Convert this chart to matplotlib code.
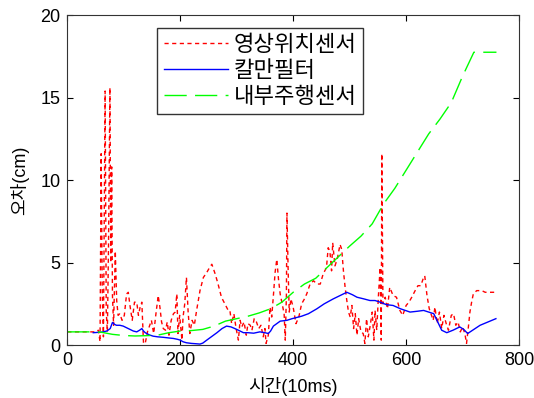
import matplotlib
matplotlib.use("Agg")
import matplotlib.pyplot as plt

# -----------------------------------------
# data
# -----------------------------------------
# 영상위치센서 (camera position sensor)
cam_x = [0, 50, 55, 58, 60, 62, 64, 67, 69, 71, 73, 75.5, 77, 78.6, 80, 82, 85, 87.5, 90,
         93, 97, 101, 105, 108, 111, 115, 119, 123, 126, 129, 132, 135, 138, 142, 146, 149,
         153, 157, 161, 164, 167, 170, 174, 177, 180, 184, 188, 191, 194, 196, 199, 203,
         205, 208, 211, 214, 217, 221, 225, 229, 235, 241, 247, 252, 256, 262, 267, 273,
         279, 285, 288, 291, 295, 299, 303, 306, 309, 313, 317, 320, 324, 327, 331, 335,
         339, 343, 347, 350, 352, 356, 359, 362, 365, 368, 371, 374, 377, 381, 384, 386,
         388, 389, 391, 393, 396, 400, 405, 410, 415, 420, 424, 430, 436, 442, 448, 453,
         459, 462, 465, 468, 470, 474, 478, 483, 486, 489, 492, 495, 498, 501, 504, 507,
         510, 513, 516, 520, 524, 527, 530, 533, 536, 540, 543, 545, 548, 551, 554, 556,
         557, 559, 563, 567, 571, 577, 583, 589, 594, 600, 605, 610, 616, 621, 626, 630,
         633, 637, 641, 645, 648, 651, 655, 659, 663, 667, 671, 675, 680, 684, 688, 692,
         696, 700, 704, 707, 710, 713, 716, 719, 725, 730, 734, 740, 748, 755, 760]
cam_y = [0.8, 0.8, 0.9, 0.2, 11.6, 3.0, 0.5, 15.4, 2.0, 0.8, 6.0, 15.6, 5.0, 10.8, 3.0, 1.2,
         5.7, 2.7, 1.8, 1.9, 1.5, 1.8, 3.1, 3.2, 2.4, 1.5, 2.6, 2.6, 1.8, 2.3, 2.6, 0.1, 0.1,
         0.8, 1.2, 1.5, 0.7, 1.9, 3.0, 2.3, 1.4, 1.0, 0.9, 1.4, 0.6, 1.5, 1.9, 2.0, 3.1, 0.7,
         1.8, 0.3, 1.7, 2.5, 4.1, 2.0, 0.7, 1.5, 1.2, 2.1, 3.3, 4.1, 4.4, 4.7, 4.9, 4.3, 3.7,
         2.9, 2.5, 2.1, 2.1, 1.3, 1.9, 1.0, 0.3, 1.5, 1.1, 1.4, 0.6, 1.3, 1.2, 0.9, 1.6, 1.4,
         1.0, 1.2, 0.5, 1.0, 0.1, 0.6, 2.3, 1.7, 3.0, 4.4, 5.2, 4.0, 3.1, 2.4, 1.9, 0.3, 3.0,
         8.0, 4.7, 2.0, 2.8, 2.3, 1.3, 1.7, 2.5, 2.8, 3.1, 3.7, 3.9, 3.7, 3.7, 4.3, 4.7, 5.9,
         5.7, 4.5, 6.2, 4.8, 5.2, 6.1, 5.8, 4.5, 3.5, 2.7, 2.0, 1.7, 2.4, 1.0, 1.9, 0.6, 1.6,
         0.8, 0.7, 0.1, 1.6, 0.5, 1.1, 2.0, 0.3, 2.1, 0.9, 3.0, 4.7, 0.3, 11.6, 2.5, 2.9, 2.2,
         3.5, 3.0, 2.9, 2.1, 1.8, 2.4, 2.6, 2.9, 3.3, 3.6, 3.6, 4.0, 4.2, 3.0, 2.2, 1.8, 1.5,
         2.3, 1.3, 2.0, 1.0, 1.8, 1.3, 0.9, 1.8, 1.9, 1.2, 1.4, 0.8, 1.1, 0.7, 0.1, 1.0, 2.0,
         2.6, 3.1, 3.3, 3.3, 3.3, 3.2, 3.2, 3.2, 3.2]

# 칼만필터 (Kalman filter)
kf_x = [46, 60, 70, 76, 80, 84, 87, 93, 99, 105, 111, 117, 123, 128, 132, 135, 138, 145,
        152, 160, 170, 180, 188, 195, 200, 205, 211, 220, 228, 235, 240, 247, 255, 265,
        274, 282, 290, 300, 312, 320, 330, 341, 350, 356, 360, 365, 377, 389, 398, 406,
        415, 427, 442, 455, 471, 483, 495, 505, 513, 525, 536, 545, 554, 565, 577, 590,
        607, 620, 631, 640, 649, 656, 663, 672, 683, 695, 702, 709, 720, 731, 745, 759]
kf_y = [0.75, 0.78, 0.85, 1.0, 1.37, 1.25, 1.2, 1.2, 1.15, 1.05, 0.95, 0.85, 0.8, 0.9, 1.0,
        0.85, 0.75, 0.62, 0.54, 0.5, 0.47, 0.43, 0.4, 0.35, 0.3, 0.2, 0.14, 0.1, 0.08, 0.06,
        0.12, 0.3, 0.5, 0.75, 1.0, 1.15, 1.1, 0.95, 0.75, 0.75, 0.72, 0.8, 0.75, 0.7, 0.85,
        1.15, 1.45, 1.5, 1.6, 1.67, 1.75, 1.9, 2.2, 2.5, 2.8, 3.0, 3.2, 3.05, 2.9, 2.8, 2.7,
        2.7, 2.6, 2.45, 2.4, 2.2, 2.0, 2.05, 2.1, 2.0, 1.9, 1.4, 0.9, 0.75, 0.9, 1.1, 0.95,
        0.7, 0.95, 1.2, 1.4, 1.6]

# 내부주행센서 (odometry)
odo_x = [0, 20, 40, 60, 80, 100, 120, 140, 160, 180, 200, 220, 240, 260, 280, 300, 320,
         340, 360, 380, 400, 420, 440, 460, 480, 500, 520, 540, 560, 580, 600, 620, 640,
         660, 680, 700, 720, 740, 760]
odo_y = [0.8, 0.8, 0.8, 0.78, 0.65, 0.58, 0.55, 0.57, 0.6, 0.75, 0.85, 0.88, 0.95, 1.15,
         1.45, 1.6, 1.75, 1.95, 2.2, 2.6, 3.2, 3.7, 4.05, 4.7, 5.35, 6.0, 6.6, 7.35, 8.55,
         9.5, 10.6, 11.7, 12.8, 13.7, 14.7, 16.3, 17.75, 17.75, 17.75]

labels = ["영상위치센서", "칼만필터", "내부주행센서"]

# -----------------------------------------
# plot
# -----------------------------------------
plt.rcParams["font.family"] = ["Liberation Sans", "Noto Sans CJK KR"]

fig = plt.figure(figsize=(5.34, 3.98), dpi=100)
ax = fig.add_axes([0.126, 0.133, 0.846, 0.829])

ax.plot(cam_x, cam_y, color="#ff0000", lw=1.0, dashes=(3, 2.5), label=labels[0])
ax.plot(kf_x, kf_y, color="#0000ff", lw=1.0, label=labels[1])
ax.plot(odo_x, odo_y, color="#00ff00", lw=1.0, dashes=(16, 6), label=labels[2])

ax.set_xlim(0, 800)
ax.set_ylim(0, 20)
ax.set_xticks([0, 200, 400, 600, 800])
ax.set_yticks([0, 5, 10, 15, 20])
ax.tick_params(direction="in", top=True, right=True, length=4, labelsize=13, pad=5)
for s in ax.spines.values():
    s.set_color("#333333")

ax.set_xlabel("시간(10ms)", fontsize=13, labelpad=6)
ax.set_ylabel("오차(cm)", fontsize=13, labelpad=8)

leg = ax.legend(loc="upper left", bbox_to_anchor=(0.1986, 0.9606), fontsize=16,
                frameon=True, fancybox=False, edgecolor="black", handlelength=2.9,
                labelspacing=0.22, borderpad=0.3, handletextpad=0.25, borderaxespad=0)
leg.get_frame().set_linewidth(1.0)

fig.savefig("out.png", dpi=100)
